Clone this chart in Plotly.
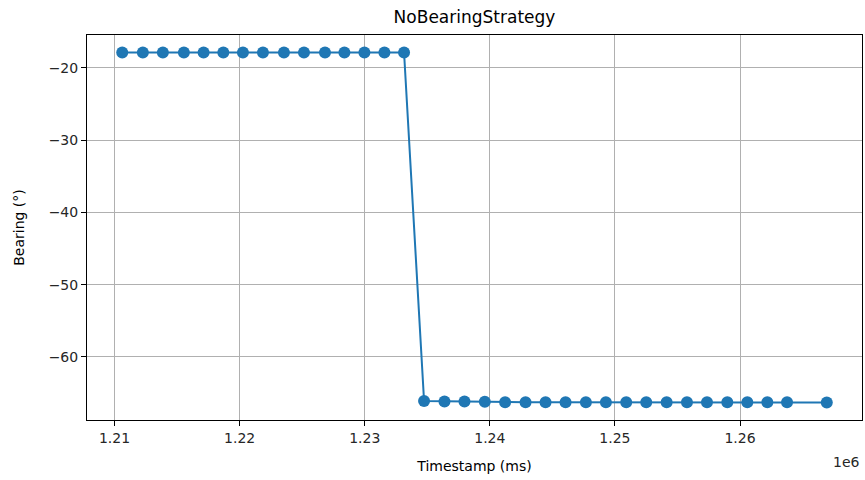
import plotly.graph_objects as go

timestamps = [1210616, 1212264, 1213864, 1215544, 1217120, 1218696, 1220264, 1221864,
              1223544, 1225144, 1226824, 1228376, 1229976, 1231576, 1233144,
              1234744, 1236376, 1237976, 1239600, 1241224, 1242856, 1244456, 1246056,
              1247680, 1249280, 1250904, 1252504, 1254136, 1255760, 1257360, 1258984,
              1260584, 1262184, 1263760, 1266936]
bearings = [-17.9] * 15 + [-66.1, -66.15, -66.15, -66.2, -66.25, -66.25, -66.25, -66.25,
                           -66.25, -66.25, -66.25, -66.25, -66.25, -66.25, -66.25, -66.25,
                           -66.25, -66.25, -66.25, -66.3]
x_tickvals = [1210000, 1220000, 1230000, 1240000, 1250000, 1260000]
x_ticktext = ["1.21", "1.22", "1.23", "1.24", "1.25", "1.26"]
y_tickvals = [-60, -50, -40, -30, -20]

color = "#1f77b4"
font = "DejaVu Sans"

fig = go.Figure()
fig.add_trace(go.Scatter(
    x=timestamps, y=bearings, mode="lines+markers",
    line=dict(color=color, width=2),
    marker=dict(color=color, size=12),
    showlegend=False,
))

span_x = timestamps[-1] - timestamps[0]
span_y = max(bearings) - min(bearings)

fig.update_layout(
    width=865, height=480,
    margin=dict(l=87, r=3, t=35, b=60, autoexpand=False),
    paper_bgcolor="white", plot_bgcolor="white",
    font=dict(family=font, size=14, color="#262626"),
    title=dict(text="NoBearingStrategy", x=0.5, xref="paper", xanchor="center",
               y=1 - 17 / 480, yref="container", yanchor="middle",
               font=dict(size=17, color="black")),
    xaxis=dict(
        range=[timestamps[0] - 0.05 * span_x, timestamps[-1] + 0.05 * span_x],
        tickvals=x_tickvals, ticktext=x_ticktext,
        showgrid=True, gridcolor="#b0b0b0", gridwidth=1,
        showline=True, linecolor="black", linewidth=1, mirror=True,
        ticks="outside", ticklen=5, tickcolor="black",
        zeroline=False, automargin=False,
        title=dict(text="Timestamp (ms)", standoff=16, font=dict(size=14, color="black")),
    ),
    yaxis=dict(
        range=[min(bearings) - 0.05 * span_y, max(bearings) + 0.05 * span_y],
        tickvals=y_tickvals,
        showgrid=True, gridcolor="#b0b0b0", gridwidth=1,
        showline=True, linecolor="black", linewidth=1, mirror=True,
        ticks="outside", ticklen=5, tickcolor="black",
        zeroline=False, automargin=False,
        title=dict(text="Bearing (°)", standoff=20, font=dict(size=14, color="black")),
    ),
    annotations=[dict(text="1e6", xref="paper", yref="paper", x=1, y=0,
                      xanchor="right", yanchor="middle", yshift=-42, showarrow=False,
                      font=dict(size=14, color="#262626"))],
)

fig.write_html("out.html", config={"displayModeBar": False},
               post_script="document.body.style.margin='0';document.body.style.overflow='hidden';")
